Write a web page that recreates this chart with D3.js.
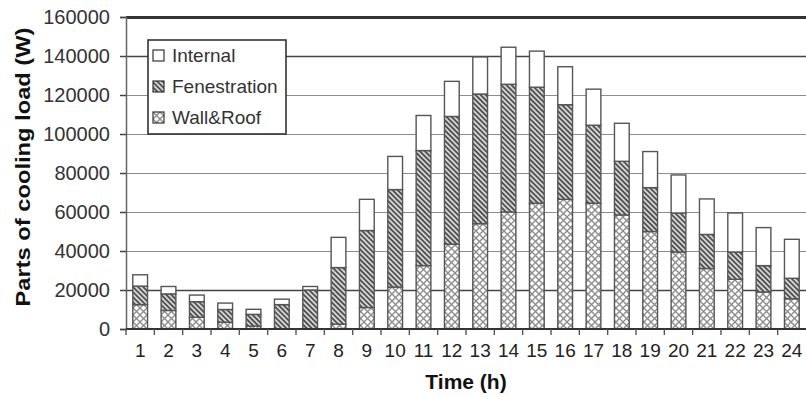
<!DOCTYPE html>
<html>
<head>
<meta charset="utf-8">
<script src="https://cdn.jsdelivr.net/npm/d3@7"></script>
<style>
  body { margin: 0; background: #fff; }
  svg { display: block; font-family: "Liberation Sans", Arial, sans-serif; }
</style>
</head>
<body>
<svg id="chart" width="806" height="397"></svg>
<script>
// hours on the x axis
var hours = ["1","2","3","4","5","6","7","8","9","10","11","12","13","14","15","16","17","18","19","20","21","22","23","24"];
// parts of the cooling load (W)
var wallRoof = [12500, 9500, 6000, 3500, 1500, 0, 0, 2500, 11000, 21500, 32500, 43500, 54000, 60000, 64500, 66500, 64500, 58500, 50000, 39500, 31000, 25500, 19000, 15500];
var fenestration = [9500, 8500, 8000, 6500, 6000, 12500, 20000, 29000, 39500, 50000, 59000, 65500, 66500, 65500, 59500, 48500, 40000, 27500, 22500, 20000, 17500, 14000, 13500, 10500];
var internal = [5800, 3800, 3400, 3300, 2600, 2800, 1800, 15500, 16000, 17000, 18000, 18000, 19000, 19000, 18500, 19500, 18500, 19500, 18500, 19500, 18200, 20000, 19500, 20000];
var yTicks = [0, 20000, 40000, 60000, 80000, 100000, 120000, 140000, 160000];
var seriesNames = ["Wall&Roof", "Fenestration", "Internal"];
var legendOrder = ["Internal", "Fenestration", "Wall&Roof"];

var svg = d3.select("#chart");
var margin = {top: 17, left: 126, right: 0, bottom: 68};
var W = 806, H = 397;

// patterns
var defs = svg.append("defs");
var fen = defs.append("pattern").attr("id", "pat-fen")
    .attr("patternUnits", "userSpaceOnUse").attr("width", 3.6).attr("height", 3.6)
    .attr("patternTransform", "rotate(45)");
fen.append("rect").attr("width", 3.6).attr("height", 3.6).attr("fill", "#d4d4d4");
fen.append("rect").attr("width", 3.6).attr("height", 1.7).attr("fill", "#4a4a4a");

var wr = defs.append("pattern").attr("id", "pat-wall")
    .attr("patternUnits", "userSpaceOnUse").attr("width", 7).attr("height", 7);
wr.append("rect").attr("width", 7).attr("height", 7).attr("fill", "#fff");
wr.append("path").attr("d", "M0,0L7,7M7,0L0,7").attr("stroke", "#8a8a8a").attr("stroke-width", 1.3);

var fills = {"Wall&Roof": "url(#pat-wall)", "Fenestration": "url(#pat-fen)", "Internal": "#fff"};

var x = d3.scaleBand().domain(hours).range([margin.left, W - margin.right]).paddingInner(0.48).paddingOuter(0.24);
var y = d3.scaleLinear().domain([0, 160000]).range([H - margin.bottom, margin.top]);

// grid lines
svg.append("g").selectAll("line").data(yTicks.filter(function(d){ return d > 0; }))
  .enter().append("line")
    .attr("x1", margin.left).attr("x2", W)
    .attr("y1", function(d){ return Math.round(y(d)) + 0.5; })
    .attr("y2", function(d){ return Math.round(y(d)) + 0.5; })
    .attr("stroke", function(d){ return (d == 20000 || d == 140000) ? "#444" : (d == 160000 ? "#333" : "#8c8c8c"); })
    .attr("stroke-width", function(d){ return d == 160000 ? 3 : (d == 20000 || d == 140000 ? 1.6 : 1.2); });

// stacked bars
var rows = hours.map(function(h, i){
  return {hour: h, "Wall&Roof": wallRoof[i], "Fenestration": fenestration[i], "Internal": internal[i]};
});
var stacked = d3.stack().keys(seriesNames)(rows);

svg.append("g").selectAll("g").data(stacked).enter().append("g")
    .attr("fill", function(d){ return fills[d.key]; })
  .selectAll("rect").data(function(d){ return d.filter(function(p){ return p[1] - p[0] > 0; }); })
  .enter().append("rect")
    .attr("x", function(d){ return x(d.data.hour); })
    .attr("width", x.bandwidth())
    .attr("y", function(d){ return y(d[1]); })
    .attr("height", function(d){ return y(d[0]) - y(d[1]); })
    .attr("stroke", "#555")
    .attr("stroke-width", 1.4);

// y axis
var yAxis = svg.append("g").attr("transform", "translate(" + margin.left + ",0)")
  .call(d3.axisLeft(y).tickValues(yTicks).tickSize(6).tickPadding(10).tickFormat(d3.format("d")));
yAxis.select(".domain").attr("stroke", "#666").attr("stroke-width", 1.5);
yAxis.selectAll(".tick line").attr("stroke", "#444").attr("stroke-width", 1.5);
yAxis.selectAll("text").attr("font-size", 20).attr("fill", "#333")
  .attr("font-family", "Liberation Sans, Arial, sans-serif");

// x axis: ticks between categories
var xAxisG = svg.append("g").attr("transform", "translate(0," + y(0) + ")");
xAxisG.append("line").attr("x1", margin.left).attr("x2", W).attr("stroke", "#333").attr("stroke-width", 1.8);
xAxisG.selectAll(".sep").data(hours).enter().append("line")
    .attr("x1", function(d){ return x(d) - x.step() * x.paddingInner() / 2; })
    .attr("x2", function(d){ return x(d) - x.step() * x.paddingInner() / 2; })
    .attr("y1", 0).attr("y2", 6).attr("stroke", "#555").attr("stroke-width", 1.4);
xAxisG.selectAll(".lbl").data(hours).enter().append("text")
    .attr("x", function(d){ return x(d) + x.bandwidth() / 2; })
    .attr("y", 28)
    .attr("text-anchor", "middle")
    .attr("font-size", 19).attr("fill", "#222")
    .text(function(d){ return d; });

// axis titles
svg.append("text")
    .attr("x", (margin.left + W) / 2).attr("y", 389)
    .attr("text-anchor", "middle").attr("font-weight", "bold").attr("font-size", 21).attr("fill", "#111")
    .text("Time (h)");
svg.append("text")
    .attr("transform", "translate(30,167) rotate(-90)")
    .attr("text-anchor", "middle").attr("font-weight", "bold").attr("font-size", 21).attr("fill", "#111")
    .attr("textLength", 279).attr("lengthAdjust", "spacingAndGlyphs")
    .text("Parts of cooling load (W)");

// legend
var lg = svg.append("g").attr("transform", "translate(148,40)");
lg.append("rect").attr("width", 138).attr("height", 94).attr("fill", "#fff").attr("stroke", "#333").attr("stroke-width", 1.6);
var item = lg.selectAll(".item").data(legendOrder).enter().append("g")
    .attr("transform", function(d, i){ return "translate(5," + (10 + i * 31) + ")"; });
item.append("rect").attr("width", 11).attr("height", 11)
    .attr("fill", function(d){ return fills[d]; }).attr("stroke", "#333").attr("stroke-width", 1.2);
item.append("text").attr("x", 19).attr("y", 12)
    .attr("font-size", 19).attr("fill", "#333")
    .text(function(d){ return d; });
</script>
</body>
</html>
